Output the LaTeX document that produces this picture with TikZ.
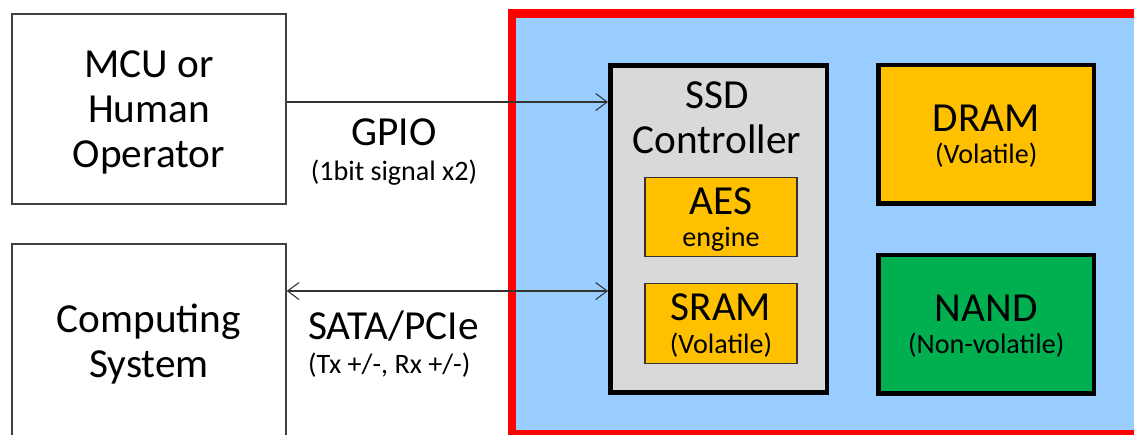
\documentclass[tikz,border=0pt]{standalone}
\usepackage{fontspec}
\setmainfont{Carlito}
\usepackage{tikz}
\usetikzlibrary{arrows.meta}
\definecolor{ssdblue}{HTML}{99CCFF}
\definecolor{ctrlgray}{HTML}{D9D9D9}
\definecolor{chiporange}{HTML}{FFC000}
\definecolor{nandgreen}{HTML}{00B050}
\newcommand{\bigtext}{\fontsize{23.5}{25.5}\selectfont}
\newcommand{\smalltext}{\fontsize{16}{18}\selectfont}

\begin{document}
\begin{tikzpicture}[x=0.02cm,y=-0.02cm,
	>={Straight Barb[length=2.3mm,width=3.4mm]},
	hostbox/.style={draw=black!75,line width=0.8pt,align=center,font=\bigtext,text depth=0pt},
	chipbox/.style={draw=black,line width=2.6pt,align=center,font=\bigtext,text depth=0pt,minimum width=4.31cm,minimum height=2.77cm},
	subbox/.style={draw=black!80,line width=0.6pt,fill=chiporange,align=center,font=\bigtext,text depth=0pt,minimum width=3.04cm,minimum height=1.59cm},
	siglabel/.style={font=\bigtext},
	sig/.style={black!80,line width=0.6pt}]
	\useasboundingbox (0,0) rectangle (1134,434);
	% SSD
	\draw[red,fill=ssdblue,line width=5.1pt] (512,13.5) rectangle (1145,434.5);
	\node[hostbox,minimum width=5.48cm,minimum height=3.8cm] (mcu) at (149,109) {MCU or\\Human\\Operator};
	\node[hostbox,minimum width=5.48cm,minimum height=3.88cm] (comp) at (149,341) {Computing\\System};
	\node[draw=black,line width=2.8pt,fill=ctrlgray,minimum width=4.33cm,minimum height=6.54cm] (ctrl) at (718.75,229) {};
	\node[font=\bigtext,align=center] (ctrltext) at (717,118) {SSD\\Controller};
	\node[subbox] (aes) at (721,217) {AES\\[-7pt]{\smalltext engine}};
	\node[subbox] (sram) at (721,323.5) {SRAM\\[-7pt]{\smalltext (Volatile)}};
	\node[chipbox,fill=chiporange] (dram) at (986.25,134.25) {DRAM\\[-7pt]{\smalltext (Volatile)}};
	\node[chipbox,fill=nandgreen] (nand) at (986.25,324.25) {NAND\\[-7pt]{\smalltext (Non-volatile)}};
	% buses
	\draw[sig,->] ([yshift=0.14cm]mcu.east) -- ([yshift=0.14cm]mcu.east -| ctrl.west);
	\draw[sig,<->] ([yshift=1cm]comp.east) -- ([yshift=1cm]comp.east -| ctrl.west);
	\node[siglabel,align=center] (gpio) at (394,152) {GPIO\\[-6pt]{\smalltext (1bit signal x2)}};
	\node[siglabel,align=left,anchor=west] (sata) at (302,344) {SATA/PCIe\\[-6pt]{\smalltext (Tx +/-, Rx +/-)}};
\end{tikzpicture}
\end{document}
